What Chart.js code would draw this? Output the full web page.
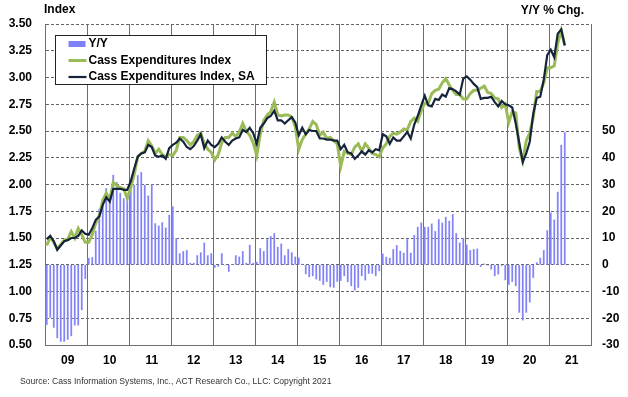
<!DOCTYPE html>
<html>
<head>
<meta charset="utf-8">
<script src="https://cdn.jsdelivr.net/npm/chart.js@4"></script>
<style>
  html, body { margin: 0; padding: 0; background: #fff; }
  #wrap { width: 628px; height: 397px; }
</style>
</head>
<body>
<div id="wrap"><canvas id="myChart" width="628" height="397"></canvas></div>
<script>
'use strict';

// x axis: one category per month, Jan 2009 .. Dec 2021
let yearTicks = ['09','10','11','12','13','14','15','16','17','18','19','20','21'];

// Y/Y % change (right axis), Jan 2009 .. May 2021
let yoy = [
  -22.6,-19.9,-23.6,-27.6,-28.9,-28.9,-28.1,-26.8,-22.8,-22.8,-17.1,-5.4,
  2.7,3.0,12.8,20.9,24.6,28.8,24.5,33.7,31,27,25,26,
  28,30,33.6,34.8,30,26,30,15.6,14.8,16,14,18.8,
  22,10,4.4,5.2,5.6,0.8,0.8,3.6,4.8,8.4,3.6,4.4,
  -1.2,-0.8,4.4,-0.4,-2.8,0.4,3.6,3.2,5.2,0.8,7.6,0.8,
  1.2,6.4,5.2,9.6,10.8,12,6.8,8,3.6,6,4.8,3.2,
  2.8,0.5,-3.6,-4.8,-4.4,-5.6,-6.2,-7.7,-6.5,-8.5,-8.7,-6.5,
  -6.2,-4.4,-6.6,-8.1,-9.7,-8.7,-4.4,-6,-3.5,-3.5,-4.4,-2.5,
  4.3,3.1,2.7,6,7.5,5.3,4.6,9.7,4.6,11.2,14.3,15.9,
  14.3,14.3,15.5,12.7,17.2,15.9,18,16.5,19.1,12,8.4,10.2,
  7.7,5.6,6,6.2,-0.9,0.6,-0.4,-1.9,-4.4,-3.7,-0.6,-5.9,
  -7.7,-6.5,-8.1,-18,-20.9,-18,-14.2,-5,1,2.7,5.6,13,
  19.6,17,27.4,45,49.7
];

// Cass Expenditures Index (left axis)
let cassIndex = [
  1.43,1.51,1.46,1.40,1.44,1.48,1.49,1.56,1.50,1.59,1.53,1.46,
  1.46,1.53,1.64,1.71,1.85,1.92,1.86,2.02,1.99,1.97,1.96,1.87,
  1.97,2.10,2.26,2.29,2.31,2.41,2.36,2.29,2.33,2.28,2.26,2.28,
  2.27,2.32,2.44,2.44,2.41,2.37,2.40,2.46,2.48,2.38,2.33,2.30,
  2.23,2.28,2.39,2.44,2.44,2.48,2.45,2.49,2.57,2.50,2.46,2.39,
  2.27,2.47,2.60,2.65,2.68,2.77,2.65,2.64,2.65,2.65,2.63,2.54,
  2.33,2.42,2.47,2.52,2.59,2.56,2.46,2.49,2.43,2.44,2.41,2.38,
  2.17,2.31,2.29,2.28,2.35,2.38,2.31,2.38,2.34,2.29,2.28,2.26,
  2.34,2.38,2.45,2.48,2.47,2.49,2.52,2.51,2.59,2.62,2.59,2.69,
  2.76,2.76,2.85,2.88,2.89,2.95,2.99,2.93,2.88,2.84,2.84,2.80,
  2.80,2.85,2.88,2.88,2.90,2.92,2.86,2.85,2.81,2.80,2.72,2.75,
  2.58,2.68,2.67,2.34,2.22,2.41,2.48,2.63,2.87,2.87,2.95,3.09,
  3.09,3.11,3.32,3.44,3.30
];

// Cass Expenditures Index, SA (left axis)
let cassIndexSA = [
  1.49,1.52,1.47,1.39,1.43,1.47,1.48,1.50,1.50,1.52,1.57,1.54,
  1.53,1.59,1.67,1.70,1.81,1.88,1.84,1.96,1.96,1.96,1.95,1.95,
  2.03,2.15,2.26,2.29,2.30,2.37,2.35,2.27,2.26,2.27,2.24,2.34,
  2.37,2.39,2.43,2.40,2.35,2.33,2.36,2.41,2.47,2.34,2.41,2.37,
  2.35,2.38,2.44,2.40,2.37,2.41,2.43,2.44,2.51,2.49,2.53,2.48,
  2.38,2.53,2.57,2.62,2.64,2.69,2.60,2.60,2.57,2.60,2.63,2.58,
  2.46,2.53,2.47,2.51,2.50,2.50,2.43,2.43,2.42,2.42,2.41,2.41,
  2.33,2.37,2.30,2.29,2.24,2.27,2.31,2.28,2.32,2.30,2.33,2.32,
  2.47,2.45,2.38,2.44,2.41,2.41,2.45,2.49,2.43,2.56,2.64,2.74,
  2.83,2.74,2.73,2.80,2.79,2.84,2.82,2.90,2.89,2.87,2.84,2.99,
  3.01,2.98,2.94,2.91,2.80,2.81,2.81,2.82,2.77,2.73,2.78,2.75,
  2.74,2.72,2.57,2.39,2.21,2.29,2.40,2.66,2.81,2.82,2.98,3.21,
  3.26,3.19,3.41,3.45,3.30
];

let months = [];
for (let y = 2009; y <= 2021; y++) {
  for (let m = 1; m <= 12; m++) {
    months.push(y + '-' + (m < 10 ? '0' + m : m));
  }
}

const FONT = '"Liberation Sans", Arial, sans-serif';
const GRID = '#6e6e6e';

// titles, legend box and source line
const overlay = {
  id: 'overlay',
  afterDraw(chart) {
    const ctx = chart.ctx;
    const a = chart.chartArea;
    ctx.save();
    ctx.fillStyle = '#000';
    ctx.font = 'bold 12px ' + FONT;
    ctx.textBaseline = 'middle';
    ctx.textAlign = 'left';
    ctx.fillText('Index', 44, 10);
    ctx.textAlign = 'right';
    ctx.fillText('Y/Y % Chg.', 584, 11);

    // legend
    let bx = a.left + 10.5, by = a.top + 11.5;
    ctx.fillStyle = '#fff';
    ctx.fillRect(bx, by, 211, 49);
    ctx.strokeStyle = '#222';
    ctx.lineWidth = 1;
    ctx.strokeRect(bx, by, 211, 49);
    let ds = chart.data.datasets;
    let rows = [by + 8.5, by + 25, by + 41.5];
    ctx.textAlign = 'left';
    for (let i = 0; i < ds.length; i++) {
      let yy = rows[i];
      if (ds[i].type === 'line') {
        ctx.strokeStyle = ds[i].borderColor;
        ctx.lineWidth = ds[i].borderWidth;
        ctx.beginPath();
        ctx.moveTo(bx + 13, yy);
        ctx.lineTo(bx + 31, yy);
        ctx.stroke();
      } else {
        ctx.fillStyle = ds[i].backgroundColor;
        ctx.fillRect(bx + 13, yy - 3, 17, 6);
      }
      ctx.fillStyle = '#000';
      ctx.fillText(ds[i].label, bx + 33, yy);
    }

    ctx.fillStyle = '#333';
    ctx.font = '8.6px ' + FONT;
    ctx.fillText('Source: Cass Information Systems, Inc., ACT Research Co., LLC: Copyright 2021', 20, 382);
    ctx.restore();
  }
};

const ctx = document.getElementById('myChart').getContext('2d');
new Chart(ctx, {
  type: 'bar',
  data: {
    labels: months,
    datasets: [{
      type: 'bar',
      label: 'Y/Y',
      data: yoy,
      yAxisID: 'y1',
      backgroundColor: '#8080f8',
      borderColor: '#b8b8ff',
      borderWidth: 0.5,
      barPercentage: 0.7,
      categoryPercentage: 1.0,
      order: 3
    }, {
      type: 'line',
      label: 'Cass Expenditures Index',
      data: cassIndex,
      yAxisID: 'y',
      borderColor: '#9bbb59',
      borderWidth: 3,
      pointRadius: 0,
      tension: 0,
      order: 2
    }, {
      type: 'line',
      label: 'Cass Expenditures Index, SA',
      data: cassIndexSA,
      yAxisID: 'y',
      borderColor: '#15243a',
      borderWidth: 2.2,
      pointRadius: 0,
      tension: 0,
      order: 1
    }]
  },
  options: {
    responsive: false,
    animation: false,
    devicePixelRatio: 1,
    layout: { padding: { top: 24, bottom: 22, left: 0, right: 0 } },
    plugins: {
      legend: { display: false },
      tooltip: { enabled: false }
    },
    scales: {
      x: {
        offset: true,
        grid: {
          offset: true,
          drawTicks: false,
          color: (c) => (c.index % 12 === 0 ? GRID : 'rgba(0,0,0,0)'),
          lineWidth: 1
        },
        border: { display: true, color: GRID, width: 1 },
        ticks: {
          autoSkip: false,
          maxRotation: 0,
          minRotation: 0,
          padding: 8,
          color: '#000',
          font: { family: FONT, size: 12, weight: 'bold' },
          callback: (v, i) => (i % 12 === 6 ? yearTicks[Math.floor(i / 12)] : '')
        },
        afterFit: (s) => { s.height = 30; }
      },
      y: {
        position: 'left',
        min: 0.5,
        max: 3.5,
        ticks: {
          stepSize: 0.25,
          padding: 13,
          color: '#000',
          font: { family: FONT, size: 12, weight: 'bold' },
          callback: (v) => v.toFixed(2)
        },
        grid: { color: '#666', lineWidth: 1, drawTicks: false },
        border: { display: true, color: GRID, width: 1, dash: [3, 2] },
        afterFit: (s) => { s.width = 45; }
      },
      y1: {
        position: 'right',
        min: -30,
        max: 90,
        ticks: {
          stepSize: 10,
          padding: 11,
          color: '#000',
          font: { family: FONT, size: 12, weight: 'bold' },
          callback: (v) => (v <= 50 ? v : '')
        },
        grid: { display: false, drawTicks: false },
        border: { display: true, color: GRID, width: 1 },
        afterFit: (s) => { s.width = 37; }
      }
    }
  },
  plugins: [overlay]
});
</script>
</body>
</html>
